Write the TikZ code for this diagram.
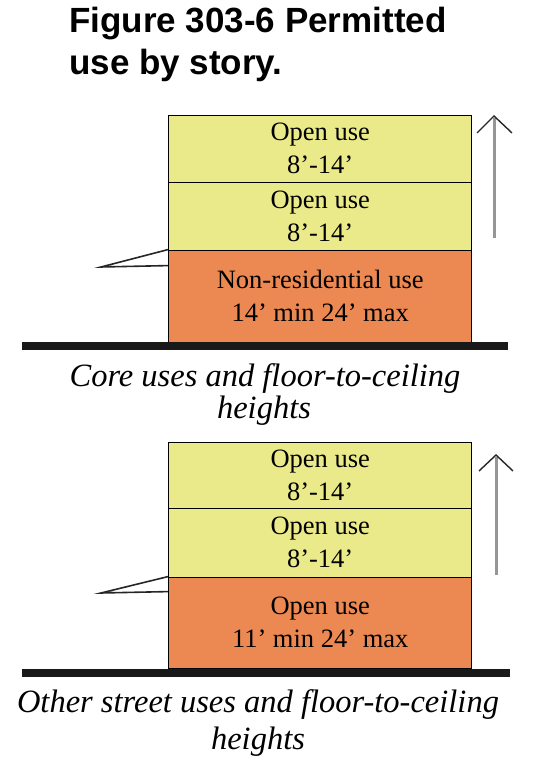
\documentclass[tikz,border=0pt]{standalone}
\usepackage{fontspec}
\setmainfont{Liberation Serif}
\newfontfamily\titlefont{Liberation Sans}
\definecolor{upper}{RGB}{235,234,139}
\definecolor{lower}{RGB}{236,136,82}
\definecolor{shaft}{RGB}{150,150,150}
\tikzset{
  storey/.style={draw=black, line width=1.4pt, minimum width=303pt, inner sep=0pt, anchor=south west,
     align=center, font=\fontsize{26.5}{33}\selectfont},
  ground/.style={fill=black!90, draw=none},
  wedge/.style={draw=black!85, line width=1.6pt},
  captext/.style={font=\fontsize{32.5}{32}\selectfont\itshape, anchor=base, inner sep=0pt},
  titletext/.style={font=\fontsize{35}{42}\selectfont\titlefont\bfseries, anchor=base west, inner sep=0pt},
  shaftline/.style={draw=shaft, line width=3pt},
  headline/.style={draw=black!85, line width=1.4pt}
}
\begin{document}
\begin{tikzpicture}[x=1pt,y=1pt]
\useasboundingbox (0,0) rectangle (543,775);
% title
\node[titletext] (t1) at (69,742) {Figure 303-6 Permitted};
\node[titletext] (t2) at (69,700) {use by story.};
% ---- top diagram ----
\node[storey, fill=lower, minimum height=92pt] (a3) at (168,432) {Non-residential use\\14’ min 24’ max};
\node[storey, fill=upper, minimum height=68pt] (a2) at (168,524) {Open use\\8’-14’};
\node[storey, fill=upper, minimum height=67pt] (a1) at (168,592) {Open use\\8’-14’};
\fill[ground] (22,425) rectangle (508,433);
\coordinate (aw) at (101,508);
\draw[wedge] (a3.north west) -- (aw) -- ([yshift=-16pt]a3.north west);
\coordinate (ab) at (494,537);
\coordinate (at) at (494,659);
\draw[shaftline] (ab) -- ([yshift=-2pt]at);
\draw[headline] (477,642) -- (at) -- (512,642);
\node[captext] (c1) at (265,388) {Core uses and floor-to-ceiling};
\node[captext] (c2) at (264,356) {heights};
% ---- bottom diagram ----
\node[storey, fill=lower, minimum height=91pt] (b3) at (168,106) {Open use\\11’ min 24’ max};
\node[storey, fill=upper, minimum height=69pt] (b2) at (168,197) {Open use\\8’-14’};
\node[storey, fill=upper, minimum height=66pt] (b1) at (168,266) {Open use\\8’-14’};
\fill[ground] (22,98) rectangle (510,106);
\coordinate (bw) at (101,182);
\draw[wedge] (b3.north west) -- (bw) -- ([yshift=-15pt]b3.north west);
\coordinate (bb) at (496,200);
\coordinate (bt) at (496,320);
\draw[shaftline] (bb) -- ([yshift=-2pt]bt);
\draw[headline] (479,304) -- (bt) -- (513,304);
\node[captext] (d1) at (258,62) {Other street uses and floor-to-ceiling};
\node[captext] (d2) at (258,25) {heights};
\end{tikzpicture}
\end{document}
